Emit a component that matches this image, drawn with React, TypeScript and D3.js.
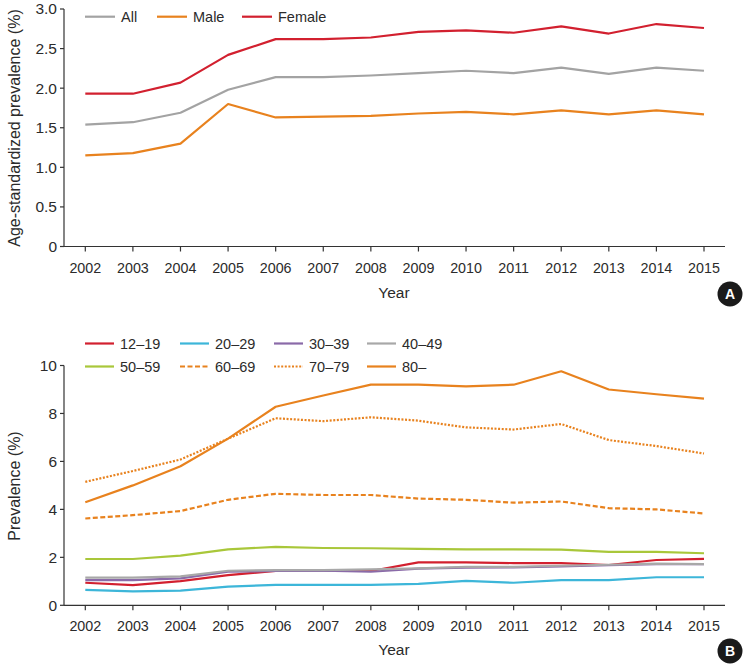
import React from "react";
import * as d3 from "d3";

const years = [2002, 2003, 2004, 2005, 2006, 2007, 2008, 2009, 2010, 2011, 2012, 2013, 2014, 2015];

// Panel A
const allVals = [1.54, 1.57, 1.69, 1.98, 2.14, 2.14, 2.16, 2.19, 2.22, 2.19, 2.26, 2.18, 2.26, 2.22];
const maleVals = [1.15, 1.18, 1.3, 1.8, 1.63, 1.64, 1.65, 1.68, 1.7, 1.67, 1.72, 1.67, 1.72, 1.67];
const femaleVals = [1.93, 1.93, 2.07, 2.42, 2.62, 2.62, 2.64, 2.71, 2.73, 2.7, 2.78, 2.69, 2.81, 2.76];
const aTicks = [0, 0.5, 1.0, 1.5, 2.0, 2.5, 3.0];

// Panel B
const g1219 = [0.94, 0.84, 1.01, 1.26, 1.43, 1.45, 1.43, 1.79, 1.79, 1.76, 1.76, 1.68, 1.89, 1.94];
const g2029 = [0.64, 0.58, 0.61, 0.78, 0.85, 0.85, 0.85, 0.89, 1.02, 0.94, 1.05, 1.05, 1.17, 1.17];
const g3039 = [1.05, 1.05, 1.12, 1.4, 1.43, 1.45, 1.4, 1.53, 1.57, 1.58, 1.62, 1.67, 1.72, 1.72];
const g4049 = [1.15, 1.15, 1.21, 1.44, 1.47, 1.47, 1.5, 1.54, 1.6, 1.6, 1.65, 1.69, 1.74, 1.72];
const g5059 = [1.93, 1.93, 2.07, 2.33, 2.44, 2.39, 2.38, 2.35, 2.33, 2.33, 2.32, 2.23, 2.23, 2.17];
const g6069 = [3.62, 3.76, 3.93, 4.4, 4.65, 4.6, 4.6, 4.45, 4.4, 4.28, 4.33, 4.05, 4.0, 3.83];
const g7079 = [5.15, 5.6, 6.08, 6.95, 7.8, 7.68, 7.84, 7.7, 7.42, 7.33, 7.56, 6.89, 6.64, 6.33];
const g80 = [4.3, 5.0, 5.8, 6.95, 8.28, 8.75, 9.2, 9.2, 9.13, 9.2, 9.76, 9.0, 8.8, 8.62];
const bTicks = [0, 2, 4, 6, 8, 10];

const FONT = "'Liberation Sans', Arial, sans-serif";
const TEXT = "#2b2b2b";
const ORANGE = "#e8821e";

const seriesA = [
  { name: "All", values: allVals, color: "#a3a3a3" },
  { name: "Male", values: maleVals, color: ORANGE },
  { name: "Female", values: femaleVals, color: "#d2202f" },
];

const seriesB = [
  { name: "12–19", values: g1219, color: "#d2202f", dash: "" },
  { name: "20–29", values: g2029, color: "#3db6d9", dash: "" },
  { name: "30–39", values: g3039, color: "#8a6aa8", dash: "" },
  { name: "40–49", values: g4049, color: "#a8a8a8", dash: "" },
  { name: "50–59", values: g5059, color: "#a9c73a", dash: "" },
  { name: "60–69", values: g6069, color: ORANGE, dash: "5,2.5" },
  { name: "70–79", values: g7079, color: ORANGE, dash: "2,1.6" },
  { name: "80–", values: g80, color: ORANGE, dash: "" },
];

const drawOrderB = [1, 0, 2, 3, 4, 5, 6, 7];

const x = d3.scaleLinear().domain([2002, 2015]).range([85.3, 704]);
const axisLeft = 64;
const axisRight = 725;

function Panel({ y, ticks, fmt, yLabel, yLabelCenter, yearY, badge, children }: any) {
  const y0 = y(ticks[0]);
  const y1 = y(ticks[ticks.length - 1]);
  return (
    <g>
      <line x1={axisLeft} x2={axisLeft} y1={y1} y2={y0} stroke="#333" strokeWidth={1.2} />
      <line x1={axisLeft} x2={axisRight} y1={y0} y2={y0} stroke="#333" strokeWidth={1.2} />
      {ticks.map((t: number) => (
        <g key={t}>
          <line x1={axisLeft - 4} x2={axisLeft} y1={y(t)} y2={y(t)} stroke="#333" strokeWidth={1.2} />
          <text x={axisLeft - 7} y={y(t)} dy="0.35em" textAnchor="end" fontSize={15.5} fill={TEXT} fontFamily={FONT}>
            {fmt(t)}
          </text>
        </g>
      ))}
      {years.map((yr) => (
        <g key={yr}>
          <line x1={x(yr)} x2={x(yr)} y1={y0} y2={y0 + 5} stroke="#333" strokeWidth={1.2} />
          <text x={x(yr)} y={y0 + 21} dy="0.35em" textAnchor="middle" fontSize={14.3} fill={TEXT} fontFamily={FONT}>
            {yr}
          </text>
        </g>
      ))}
      <text x={394} y={yearY} dy="0.35em" textAnchor="middle" fontSize={15.5} fill={TEXT} fontFamily={FONT}>
        Year
      </text>
      <text
        transform={`translate(14,${yLabelCenter}) rotate(-90)`}
        dy="0.35em"
        textAnchor="middle"
        fontSize={16}
        fill={TEXT}
        fontFamily={FONT}
      >
        {yLabel}
      </text>
      <circle cx={730} cy={yearY + 1} r={12.5} fill="#1a1a1a" />
      <text x={730} y={yearY + 1} dy="0.36em" textAnchor="middle" fontSize={14} fontWeight="bold" fill="#fff" fontFamily={FONT}>
        {badge}
      </text>
      {children}
    </g>
  );
}

export default function App() {
  const yA = d3.scaleLinear().domain([0, 3]).range([246.5, 9]);
  const yB = d3.scaleLinear().domain([0, 10]).range([605.3, 365.5]);
  const lineA = d3
    .line<number>()
    .x((_, i) => x(years[i]))
    .y((v) => yA(v));
  const lineB = d3
    .line<number>()
    .x((_, i) => x(years[i]))
    .y((v) => yB(v));

  const legendAX = [85, 157, 242];
  const legendBX = [85, 180, 274, 367];
  const legendBY = [343.5, 366.5];

  return (
    <svg width={745} height={666} style={{ position: "absolute", left: 0, top: 0, background: "#fff" }}>
      <rect width={745} height={666} fill="#fff" />
      <Panel
        y={yA}
        ticks={aTicks}
        fmt={(t: number) => (t === 0 ? "0" : d3.format(".1f")(t))}
        yLabel="Age-standardized prevalence (%)"
        yLabelCenter={128}
        yearY={293}
        badge="A"
      >
        {seriesA.map((s) => (
          <path key={s.name} d={lineA(s.values) || ""} fill="none" stroke={s.color} strokeWidth={2.2} strokeLinejoin="round" />
        ))}
        {seriesA.map((s, i) => (
          <g key={"lg" + s.name}>
            <line x1={legendAX[i]} x2={legendAX[i] + 30} y1={16.7} y2={16.7} stroke={s.color} strokeWidth={2.2} />
            <text x={legendAX[i] + 36} y={16.7} dy="0.35em" fontSize={14.5} fill={TEXT} fontFamily={FONT}>
              {s.name}
            </text>
          </g>
        ))}
      </Panel>
      <Panel
        y={yB}
        ticks={bTicks}
        fmt={(t: number) => String(t)}
        yLabel="Prevalence (%)"
        yLabelCenter={486}
        yearY={650}
        badge="B"
      >
        {drawOrderB.map((i) => {
          const s = seriesB[i];
          return (
            <path
              key={s.name}
              d={lineB(s.values) || ""}
              fill="none"
              stroke={s.color}
              strokeWidth={2.2}
              strokeDasharray={s.dash || undefined}
              strokeLinejoin="round"
            />
          );
        })}
        {seriesB.map((s, i) => {
          const lx = legendBX[i % 4];
          const ly = legendBY[Math.floor(i / 4)];
          return (
            <g key={"lg" + s.name}>
              <line x1={lx} x2={lx + 29} y1={ly} y2={ly} stroke={s.color} strokeWidth={2.2} strokeDasharray={s.dash || undefined} />
              <text x={lx + 35} y={ly} dy="0.35em" fontSize={14.5} fill={TEXT} fontFamily={FONT}>
                {s.name}
              </text>
            </g>
          );
        })}
      </Panel>
    </svg>
  );
}
